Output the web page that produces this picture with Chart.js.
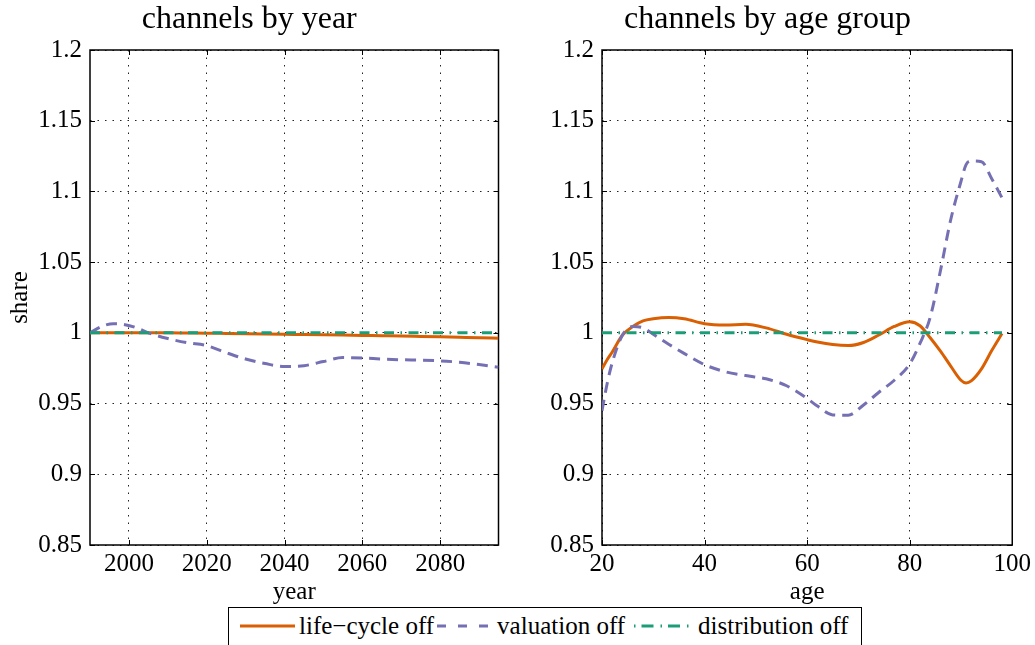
<!DOCTYPE html>
<html>
<head>
<meta charset="utf-8">
<title>channels</title>
<script src="https://cdn.jsdelivr.net/npm/chart.js@4.4.1/dist/chart.umd.min.js"></script>
<style>
  html, body { margin: 0; padding: 0; background: #fff; width: 1035px; height: 645px; overflow: hidden;
    font-family: "Liberation Serif", "Times New Roman", serif; }
  #cLeft { position: absolute; left: 0; top: 0; }
  #cRight { position: absolute; left: 520px; top: 0; }
  #legend { position: absolute; left: 228px; top: 607px; width: 634px; height: 46px; box-sizing: border-box;
    border: 1.5px solid #000; background: #fff; display: flex; align-items: flex-start; padding: 3px 0 0 9px;
    font-family: "Liberation Serif", "Times New Roman", serif;
    font-size: 25px; color: #000; white-space: nowrap; line-height: 30px; }
  #legend svg { flex: none; margin-top: 0; }
  #legend span { margin-left: 4px; font-family: "Liberation Serif", "Times New Roman", serif; }
</style>
</head>
<body>
<canvas id="cLeft" width="520" height="610"></canvas>
<canvas id="cRight" width="515" height="610"></canvas>
<div id="legend">
  <svg width="57" height="30"><line x1="2" y1="15" x2="57" y2="15" stroke="#d95f02" stroke-width="3"/></svg>
  <span>life−cycle off</span>
  <svg width="57" height="30" style="margin-left:1px"><line x1="2" y1="15" x2="57" y2="15" stroke="#7570b3" stroke-width="3" stroke-dasharray="9 12"/></svg>
  <span style="margin-left:5px">valuation off</span>
  <svg width="64" height="30" style="margin-left:4px"><line x1="5" y1="15" x2="64" y2="15" stroke="#1b9e77" stroke-width="3" stroke-dasharray="1.5 6 12 7"/></svg>
  <span style="margin-left:5px">distribution off</span>
</div>
<script>
// ---- channels by year ----
const years = [1990, 1993, 1996, 1999, 2002, 2005, 2010, 2015, 2020, 2025, 2030, 2035,
               2040, 2045, 2050, 2055, 2060, 2065, 2070, 2075, 2080, 2085, 2090, 2095];
const yearLifeCycleOff = [1.0000, 1.0000, 1.0000, 1.0000, 1.0000, 1.0000, 1.0000, 0.9999, 0.9998, 0.9996, 0.9994, 0.9992,
                          0.9990, 0.9988, 0.9986, 0.9984, 0.9982, 0.9980, 0.9978, 0.9975, 0.9972, 0.9969, 0.9966, 0.9962];
const yearValuationOff = [1.0000, 1.0045, 1.0065, 1.0058, 1.0035, 1.0000, 0.9960, 0.9930, 0.9910, 0.9860, 0.9815, 0.9783,
                          0.9762, 0.9768, 0.9797, 0.9825, 0.9822, 0.9815, 0.9810, 0.9807, 0.9802, 0.9792, 0.9776, 0.9757];
const yearDistributionOff = [1, 1, 1, 1, 1, 1, 1, 1, 1, 1, 1, 1,
                             1, 1, 1, 1, 1, 1, 1, 1, 1, 1, 1, 1];

// ---- channels by age group ----
const ages = [20, 21, 22, 24, 26, 28, 30, 33, 36, 40, 44, 48, 52, 56, 60, 62, 65, 68,
              71, 74, 77, 80, 82, 84, 86, 88, 90, 91, 92, 94, 96, 98];
const ageLifeCycleOff = [0.9745, 0.9810, 0.9865, 0.9985, 1.0045, 1.0085, 1.0100, 1.0109, 1.0100, 1.0065, 1.0056, 1.0060,
                         1.0035, 0.9990, 0.9952, 0.9935, 0.9917, 0.9910, 0.9932, 0.9985, 1.0045, 1.0078, 1.0050, 0.9965,
                         0.9870, 0.9765, 0.9665, 0.9645, 0.9660, 0.9745, 0.9875, 0.9995];
const ageValuationOff = [0.9450, 0.9640, 0.9790, 0.9985, 1.0045, 1.0035, 0.9990, 0.9920, 0.9855, 0.9775, 0.9725, 0.9698,
                         0.9675, 0.9626, 0.9536, 0.9482, 0.9420, 0.9418, 0.9490, 0.9580, 0.9665, 0.9780, 0.9925, 1.0110,
                         1.0440, 1.0800, 1.1070, 1.1190, 1.1215, 1.1210, 1.1090, 1.0955];
const ageDistributionOff = ages.map(() => 1);

// ---- axis ticks ----
const shareTicks = [0.85, 0.9, 0.95, 1, 1.05, 1.1, 1.15, 1.2];
const yearTicks = [2000, 2020, 2040, 2060, 2080];
const ageTicks = [20, 40, 60, 80, 100];

const SERIF = '"Liberation Serif", "Times New Roman", serif';
Chart.defaults.font.family = SERIF;
Chart.defaults.color = '#000';

const COLORS = { life: '#d95f02', valuation: '#7570b3', distribution: '#1b9e77' };
const TEXT_FONT = { family: SERIF, size: 25, weight: 'normal' };

function pairs(xs, ys) { return xs.map((x, i) => ({ x, y: ys[i] })); }

// plot box and inward tick marks
const framePlugin = {
  id: 'frame',
  beforeDatasetsDraw(chart) {
    const { ctx, chartArea: a, scales: { x, y } } = chart;
    ctx.save();
    ctx.setLineDash([]);
    ctx.strokeStyle = '#000';
    ctx.lineWidth = 1;
    ctx.beginPath();
    x.ticks.forEach(t => {
      const px = Math.round(x.getPixelForValue(t.value)) + 0.5;
      ctx.moveTo(px, a.bottom); ctx.lineTo(px, a.bottom - 5);
      ctx.moveTo(px, a.top); ctx.lineTo(px, a.top + 5);
    });
    y.ticks.forEach(t => {
      const py = Math.round(y.getPixelForValue(t.value)) + 0.5;
      ctx.moveTo(a.left, py); ctx.lineTo(a.left + 5, py);
      ctx.moveTo(a.right, py); ctx.lineTo(a.right - 5, py);
    });
    ctx.stroke();
    ctx.lineWidth = 1.5;
    ctx.strokeRect(a.left, a.top, a.right - a.left, a.bottom - a.top);
    ctx.restore();
  }
};

function makeChart(id, cfg) {
  const datasets = [
    { label: 'life−cycle off', data: pairs(cfg.xs, cfg.life), borderColor: COLORS.life,
      borderWidth: 3, order: 2 },
    { label: 'valuation off', data: pairs(cfg.xs, cfg.valuation), borderColor: COLORS.valuation,
      borderWidth: 3, borderDash: [11, 7], order: 1 },
    { label: 'distribution off', data: pairs(cfg.xs, cfg.distribution), borderColor: COLORS.distribution,
      borderWidth: 3, borderDash: [10, 6.5, 1.5, 6.5], order: 0 }
  ].map(d => Object.assign(d, { pointRadius: 0, fill: false, cubicInterpolationMode: 'monotone', borderCapStyle: 'butt' }));

  return new Chart(document.getElementById(id), {
    type: 'line',
    data: { datasets },
    plugins: [framePlugin],
    options: {
      responsive: false,
      animation: false,
      events: [],
      font: { family: SERIF },
      layout: { padding: { left: 0, right: cfg.padRight, top: 0, bottom: 0 } },
      plugins: {
        legend: { display: false },
        tooltip: { enabled: false },
        title: {
          display: true, text: cfg.title, color: '#000',
          font: { family: SERIF, size: 32, weight: 'normal' },
          padding: { top: 0, bottom: 11.6 }
        }
      },
      scales: {
        x: {
          type: 'linear', min: cfg.xMin, max: cfg.xMax,
          afterBuildTicks: s => { s.ticks = cfg.xTicks.map(v => ({ value: v })); },
          afterFit: s => { s.height = 65; },
          ticks: { font: TEXT_FONT, padding: 4, maxRotation: 0, color: '#000',
                   callback: v => String(v) },
          grid: { color: '#222', lineWidth: 1, drawTicks: false },
          border: { display: false, dash: [1.5, 6] },
          title: { display: true, text: cfg.xTitle, color: '#000', font: TEXT_FONT,
                   padding: { top: 0, bottom: 3 } }
        },
        y: {
          type: 'linear', min: 0.85, max: 1.2,
          afterBuildTicks: s => { s.ticks = shareTicks.map(v => ({ value: v })); },
          afterFit: s => { s.width = cfg.yWidth; },
          ticks: { font: TEXT_FONT, padding: 8, color: '#000',
                   callback: v => String(Number(v.toFixed(2))) },
          grid: { color: '#222', lineWidth: 1, drawTicks: false },
          border: { display: false, dash: [1.5, 6] },
          title: { display: !!cfg.yTitle, text: cfg.yTitle || '', color: '#000', font: TEXT_FONT,
                   padding: { top: 5, bottom: 0 } }
        }
      }
    }
  });
}

makeChart('cLeft', {
  title: 'channels by year', xTitle: 'year', yTitle: 'share',
  xs: years, life: yearLifeCycleOff, valuation: yearValuationOff, distribution: yearDistributionOff,
  xMin: 1990, xMax: 2095, xTicks: yearTicks, yWidth: 90, padRight: 21.5
});

makeChart('cRight', {
  title: 'channels by age group', xTitle: 'age',
  xs: ages, life: ageLifeCycleOff, valuation: ageValuationOff, distribution: ageDistributionOff,
  xMin: 20, xMax: 100, xTicks: ageTicks, yWidth: 82, padRight: 20
});
</script>
</body>
</html>
